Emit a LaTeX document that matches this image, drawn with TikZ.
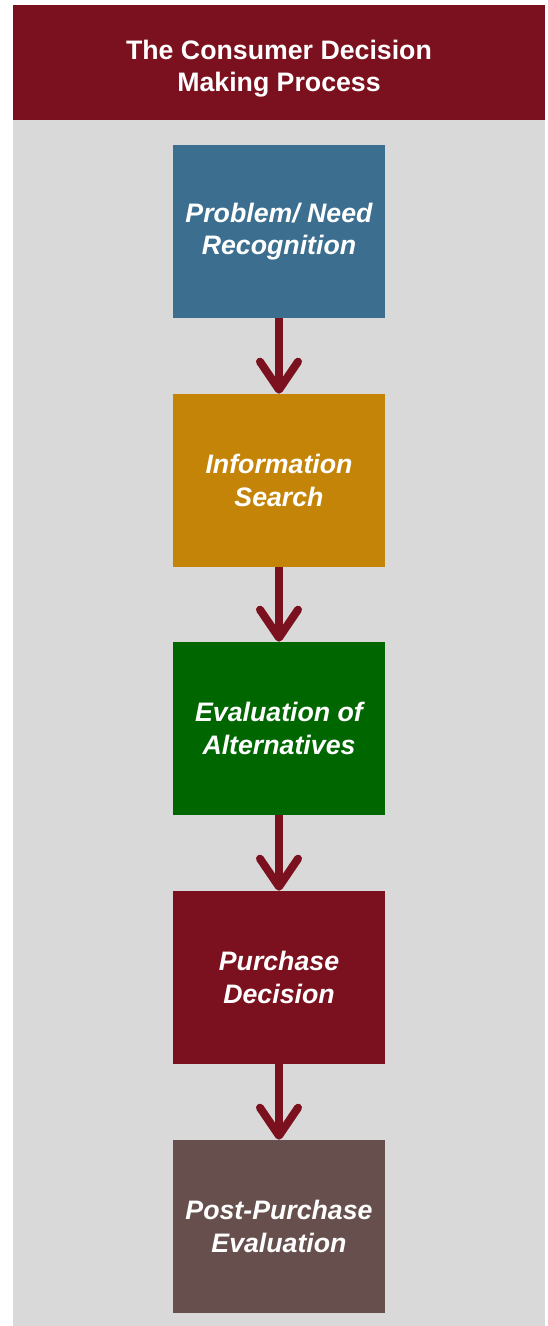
\documentclass[tikz,border=0pt]{standalone}
\usepackage{fontspec}
\setmainfont{Liberation Sans}
\usetikzlibrary{arrows.meta}

\definecolor{darkred}{RGB}{123,17,30}
\definecolor{panelgrey}{RGB}{217,217,217}
\definecolor{stepblue}{RGB}{60,110,143}
\definecolor{stepgold}{RGB}{196,132,8}
\definecolor{stepgreen}{RGB}{0,102,0}
\definecolor{stepbrown}{RGB}{103,79,77}

\begin{document}
\begin{tikzpicture}[x=0.025cm, y=-0.025cm,
  stepbox/.style={shape=rectangle, minimum width=5.3cm, minimum height=4.325cm,
    inner sep=0pt, align=center, text=white,
    font=\fontsize{19}{23}\selectfont\bfseries\itshape},
  flow/.style={draw=darkred, line width=5.7pt,
    -{Straight Barb[length=7mm, width=9.5mm, round]}}]

\useasboundingbox (0,0) rectangle (547,1326);
\fill[panelgrey] (13,120) rectangle (545,1326);
\fill[darkred] (13,5) rectangle (545,120);

\node[align=center, text=white, font=\fontsize{19}{23}\selectfont\bfseries](title)
  at (279,68.5) {The Consumer Decision\\Making Process};

\node[stepbox, fill=stepblue](need) at (279,231.5) {Problem/ Need\\Recognition};
\node[stepbox, fill=stepgold](search) at (279,480.5) {Information\\Search};
\node[stepbox, fill=stepgreen](eval) at (279,728.5) {Evaluation of\\Alternatives};
\node[stepbox, fill=darkred](purchase) at (279,977.5) {Purchase\\Decision};
\node[stepbox, fill=stepbrown](post) at (279,1226.5) {Post-Purchase\\Evaluation};

\path[flow] (need) edge (search);
\path[flow] (search) edge (eval);
\path[flow] (eval) edge (purchase);
\path[flow] (purchase) edge (post);
\end{tikzpicture}
\end{document}
